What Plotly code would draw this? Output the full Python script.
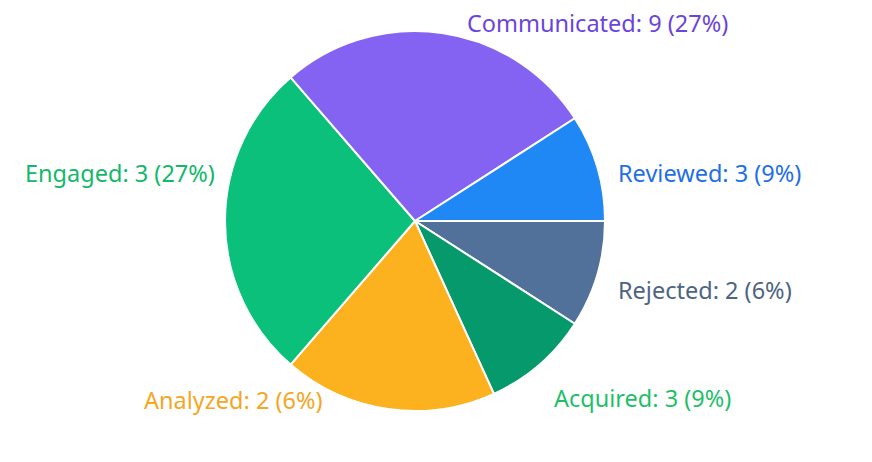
import plotly.graph_objects as go

# clockwise from 3 o'clock
categories = ["Rejected", "Acquired", "Analyzed", "Engaged", "Communicated", "Reviewed"]
slice_values = [1, 1, 2, 3, 3, 1]
label_counts = [2, 3, 2, 3, 9, 3]
label_pcts = ["6%", "9%", "6%", "27%", "27%", "9%"]
slice_colors = ["#51709a", "#06996c", "#fcb21e", "#0bc07a", "#8462f2", "#1f88f5"]
text_colors = ["#4d6582", "#1fbf6a", "#f5a623", "#14b86a", "#6a45dc", "#1f6fe8"]

texts = [f"{c}: {n} ({p})" for c, n, p in zip(categories, label_counts, label_pcts)]

W, H = 872, 462
# label anchor positions in figure pixels (layout only)
label_px = [(609, 282, "left"), (545, 390, "left"), (316, 392, "right"),
            (208, 165, "right"), (458, 15, "left"), (609, 165, "left")]

cx, cy, r = 407, 213, 190

fig = go.Figure(go.Pie(
    labels=categories,
    values=slice_values,
    textinfo="none",
    sort=False,
    direction="clockwise",
    rotation=90,
    marker=dict(colors=slice_colors, line=dict(color="white", width=2)),
    showlegend=False,
    hoverinfo="label+value+percent",
    domain=dict(x=[(cx - r) / W, (cx + r) / W], y=[(H - cy - r) / H, (H - cy + r) / H]),
))

annotations = []
for t, col, (px, py, anchor) in zip(texts, text_colors, label_px):
    annotations.append(dict(
        text=t, x=px / W, y=1 - py / H, xref="paper", yref="paper",
        xanchor=anchor, yanchor="middle", showarrow=False, borderpad=0,
        font=dict(family="Noto Sans", size=23.5, color=col),
    ))

fig.update_layout(
    width=W, height=H,
    margin=dict(l=0, r=0, t=0, b=0, autoexpand=False),
    paper_bgcolor="white",
    plot_bgcolor="white",
    annotations=annotations,
)

fig.write_html("out.html")
